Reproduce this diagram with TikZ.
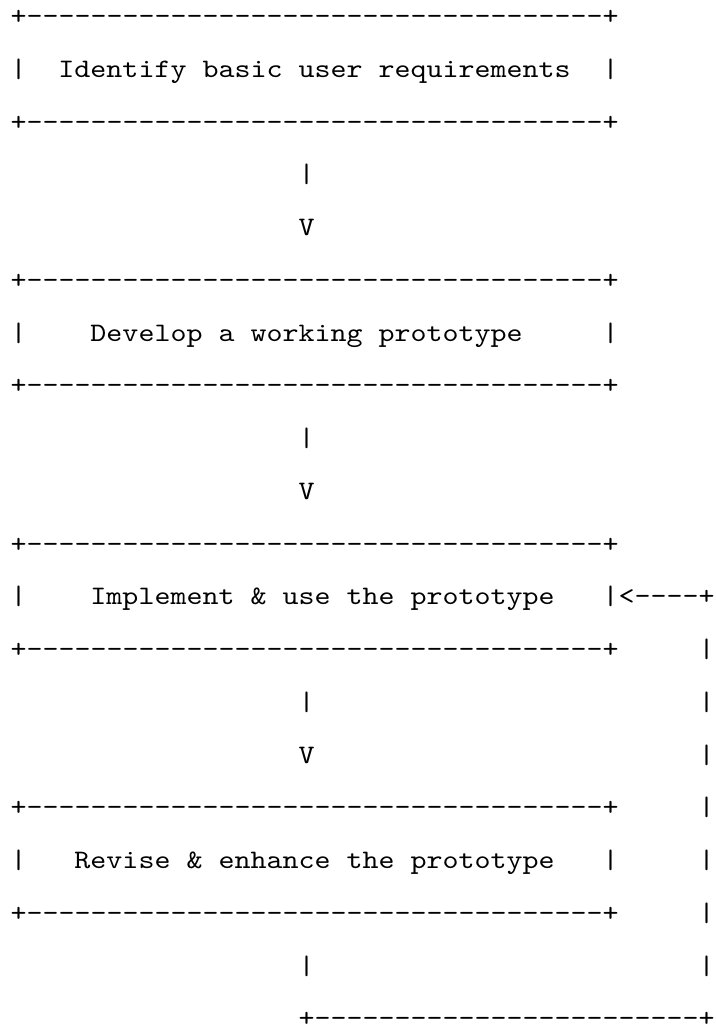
\documentclass[tikz,border=0pt]{standalone}
\usepackage{fontspec}
\newfontfamily\asciimono{lmmono10-regular.otf}[FakeStretch=1.143]
\begin{document}
\begin{tikzpicture}[x=16pt,y=-52.75pt,
		every node/.style={anchor=base west,inner sep=0pt,font=\asciimono\fontsize{26.67pt}{32pt}\selectfont}]
			\useasboundingbox (-10.3pt,24.55pt) rectangle (704.7pt,-1000.45pt);
			\node (idtop) at (0,0) {+------------------------------------+};
			\node (idtext) at (0,1) {|\ \ Identify basic user requirements\ \ |};
			\node (idbot) at (0,2) {+------------------------------------+};
			\node (stem1) at (18,3) {|};
			\node (head1) at (18,4) {V};
			\node (devtop) at (0,5) {+------------------------------------+};
			\node (devtext) at (0,6) {|\ \ \ \ Develop a working prototype\ \ \ \ \ |};
			\node (devbot) at (0,7) {+------------------------------------+};
			\node (stem2) at (18,8) {|};
			\node (head2) at (18,9) {V};
			\node (imptop) at (0,10) {+------------------------------------+};
			\node (imptext) at (0,11) {|\ \ \ \ Implement \& use the prototype\ \ \ |};
			\node (back) at (38,11) {<----+};
			\node (impbot) at (0,12) {+------------------------------------+};
			\node (stem3) at (18,13) {|};
			\node (head3) at (18,14) {V};
			\node (revtop) at (0,15) {+------------------------------------+};
			\node (revtext) at (0,16) {|\ \ \ Revise \& enhance the prototype\ \ \ |};
			\node (revbot) at (0,17) {+------------------------------------+};
			\node (stem4) at (18,18) {|};
			\node (loopbot) at (18,19) {+------------------------+};
			\foreach \r in {12,...,18}
				\node (loop\r) at (43,\r) {|};
		\end{tikzpicture}
\end{document}
